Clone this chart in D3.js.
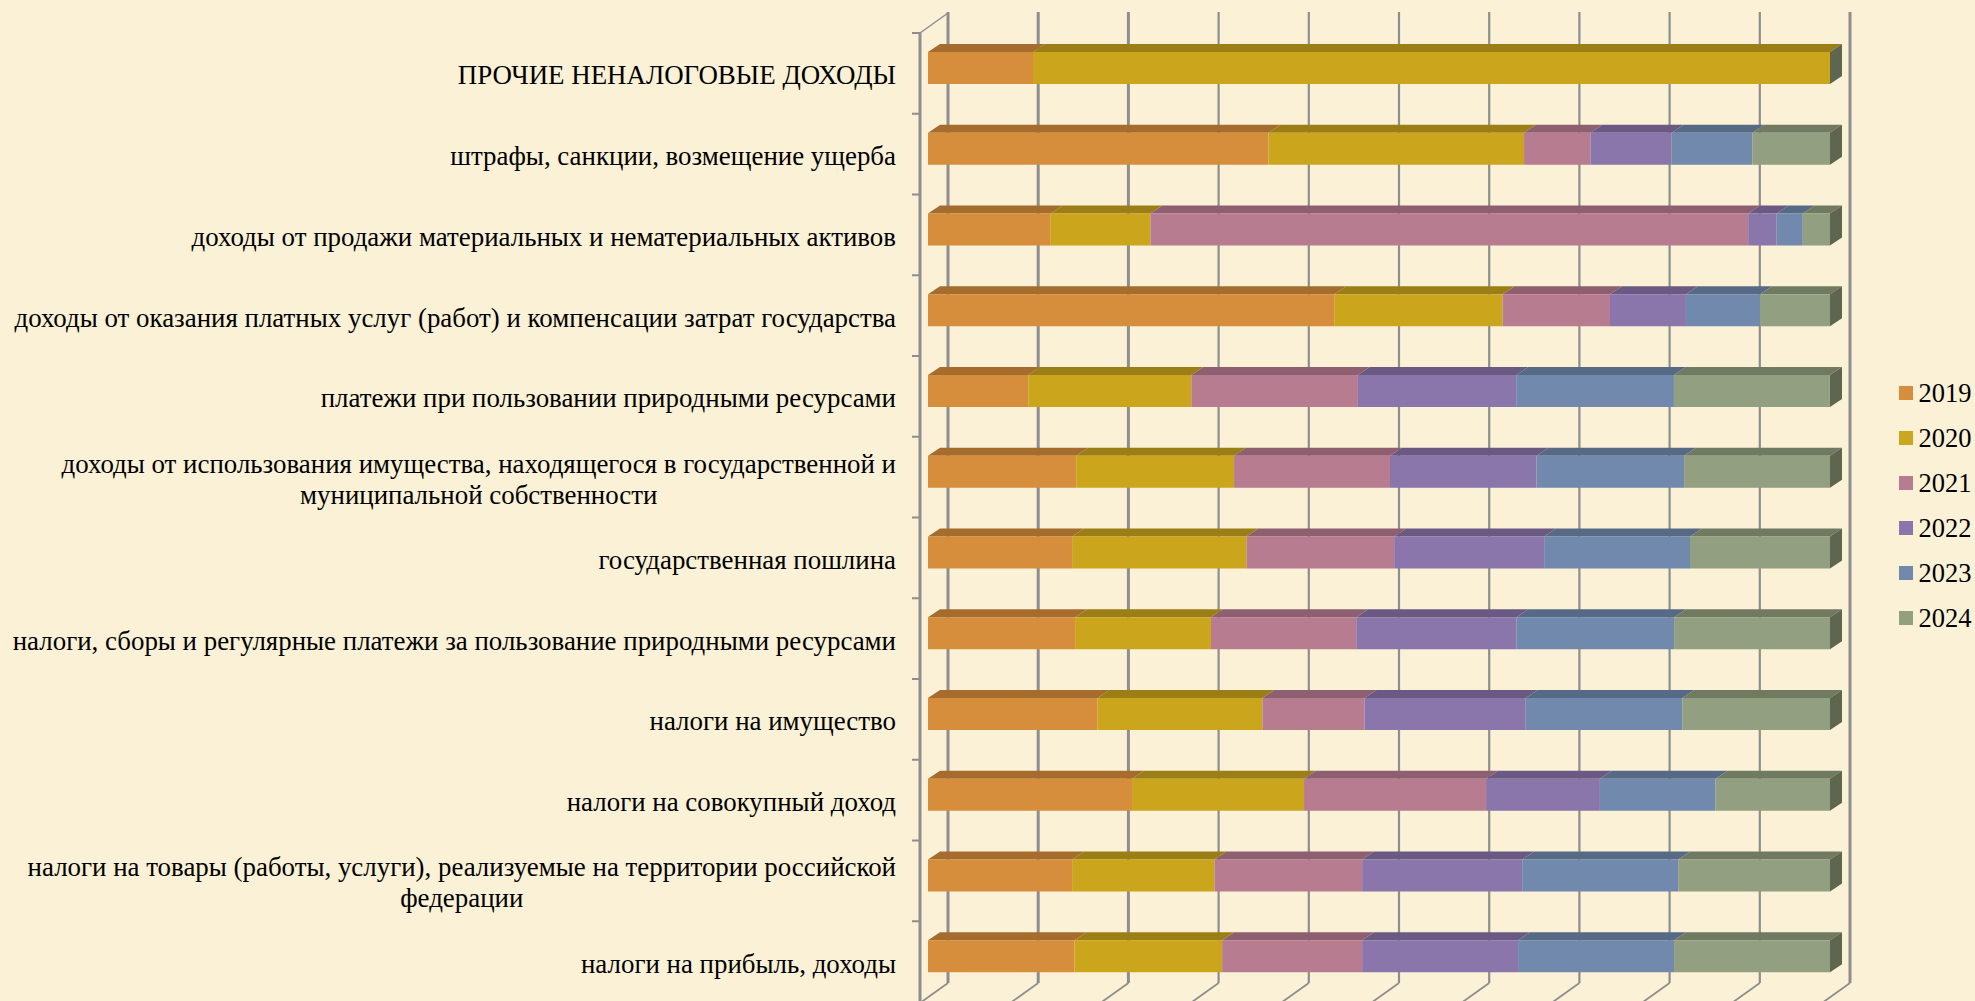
<!DOCTYPE html>
<html><head><meta charset="utf-8">
<script src="https://cdnjs.cloudflare.com/ajax/libs/d3/7.8.5/d3.min.js"></script>
<style>html,body{margin:0;padding:0;background:#FAF1D6;overflow:hidden}svg{display:block}text{font-family:"Liberation Serif",serif;fill:#000}</style>
</head><body><svg id="c" width="1975" height="1001"></svg>
<script>
const categories=[
["ПРОЧИЕ НЕНАЛОГОВЫЕ ДОХОДЫ"],
["штрафы, санкции, возмещение ущерба"],
["доходы от продажи материальных и нематериальных активов"],
["доходы от оказания платных услуг (работ) и компенсации затрат государства"],
["платежи при пользовании природными ресурсами"],
["доходы от использования имущества, находящегося в государственной и","муниципальной собственности"],
["государственная пошлина"],
["налоги, сборы и регулярные платежи за пользование природными ресурсами"],
["налоги на имущество"],
["налоги на совокупный доход"],
["налоги на товары (работы, услуги), реализуемые на территории российской","федерации"],
["налоги на прибыль, доходы"]];
const years=["2019","2020","2021","2022","2023","2024"];
const s2019=[11.64,37.74,13.61,45.04,11.11,16.44,15.98,16.31,18.80,22.62,15.98,16.24];
const s2020=[88.36,28.34,11.05,18.67,18.08,17.49,19.33,15.06,18.28,19.07,15.78,16.37];
const s2021=[0,7.36,66.27,11.90,18.47,17.29,16.37,16.11,11.31,20.18,16.37,15.52];
const s2022=[0,9.01,3.16,8.42,17.55,16.24,16.63,17.75,17.88,12.62,17.75,17.29];
const s2023=[0,8.94,2.89,8.22,17.49,16.37,16.17,17.49,17.36,12.82,17.29,17.29];
const s2024=[0,8.61,3.02,7.76,17.29,16.17,15.52,17.29,16.37,12.69,16.83,17.29];
const frontColors=["#D68E3C","#CBA61F","#B87C91","#8B76AB","#7089AD","#929F80"];
const topColors=["#A56C2E","#9C7E15","#8D5F6F","#6B5A83","#566A85","#6F7A61"];
const sideColor="#5F6650";

const series=[s2019,s2020,s2021,s2022,s2023,s2024];
const rows=categories.map((c,i)=>{const r={i};years.forEach((y,k)=>r[y]=series[k][i]);return r;});
const stacked=d3.stack().keys(years)(rows);

const svg=d3.select("#c");
const defs=svg.append("defs");
defs.append("filter").attr("id","soft").attr("x","-2%").attr("y","-2%").attr("width","104%").attr("height","104%")
  .append("feGaussianBlur").attr("stdDeviation",0.5);

const x=d3.scaleLinear().domain([0,100]).range([928,1830]);
const y=d3.scaleBand().domain(d3.range(categories.length)).range([33,1002]);
const DX=12,DY=8,WX=28,WY=20,BAR=32,OFF=19,wallL=-8;
const wallTop=33,wallBot=1003;
const gridCol="#8E8E8E";

const g=svg.append("g").attr("filter","url(#soft)");
const ticks=x.ticks(10);
g.append("g").selectAll("line").data(ticks).join("line")
 .attr("x1",d=>x(d)+wallL+WX).attr("x2",d=>x(d)+wallL+WX)
 .attr("y1",wallTop-WY-1).attr("y2",wallBot-WY)
 .attr("stroke",gridCol).attr("stroke-width",(d,i)=>(i<3||i==10)?3:2.2);
g.append("g").selectAll("line").data(ticks).join("line")
 .attr("x1",d=>x(d)+wallL+WX).attr("x2",d=>x(d)+wallL)
 .attr("y1",wallBot-WY).attr("y2",wallBot)
 .attr("stroke",gridCol).attr("stroke-width",1.8);
g.append("line").attr("x1",x(0)+wallL).attr("x2",x(0)+wallL).attr("y1",wallTop).attr("y2",wallBot+2).attr("stroke",gridCol).attr("stroke-width",3);
g.append("line").attr("x1",x(0)+wallL).attr("x2",x(0)+wallL+WX).attr("y1",wallTop).attr("y2",wallTop-WY).attr("stroke",gridCol).attr("stroke-width",1.5);
const tickPos=d3.range(categories.length+1).map(i=>33+i*y.step());
g.append("g").selectAll("line").data(tickPos).join("line")
 .attr("x1",x(0)+wallL-8).attr("x2",x(0)+wallL).attr("y1",d=>d).attr("y2",d=>d)
 .attr("stroke",gridCol).attr("stroke-width",2);
const bars=g.append("g");
rows.forEach((r,i)=>{
  const t=y(i)+OFF;
  stacked.forEach((st,k)=>{
    const [a,b]=st[i]; if(b-a<=0) return;
    bars.append("polygon").attr("fill",topColors[k])
      .attr("points",[[x(a),t],[x(a)+DX,t-DY],[x(b)+DX,t-DY],[x(b),t]].join(" "));
    bars.append("rect").attr("fill",frontColors[k])
      .attr("x",x(a)).attr("y",t).attr("width",x(b)-x(a)).attr("height",BAR);
  });
  bars.append("polygon").attr("fill",sideColor)
    .attr("points",[[x(100),t],[x(100)+DX,t-DY],[x(100)+DX,t-DY+BAR],[x(100),t+BAR]].join(" "));
});
const LBL=896,LH=31,FS=26.9;
const lab=svg.append("g").attr("font-size",FS);
categories.forEach((lines,i)=>{
  const cy=y(i)+y.bandwidth()/2+4+FS*0.26;
  if(lines.length===1){
    lab.append("text").attr("x",LBL).attr("y",cy).attr("text-anchor","end").text(lines[0]);
  } else {
    const first=lab.append("text").attr("x",LBL).attr("y",cy-LH/2).attr("text-anchor","end").text(lines[0]);
    const w=first.node().getComputedTextLength();
    lab.append("text").attr("x",LBL-w/2).attr("y",cy+LH/2).attr("text-anchor","middle").text(lines[1]);
  }
});
const leg=svg.append("g").selectAll("g").data(years).join("g")
  .attr("transform",(d,i)=>`translate(1899,${386+i*45})`);
leg.append("rect").attr("width",14).attr("height",14).attr("fill",(d,i)=>frontColors[i]);
leg.append("text").attr("x",19.5).attr("y",15.5).attr("font-size",26.5).text(d=>d);
</script></body></html>
